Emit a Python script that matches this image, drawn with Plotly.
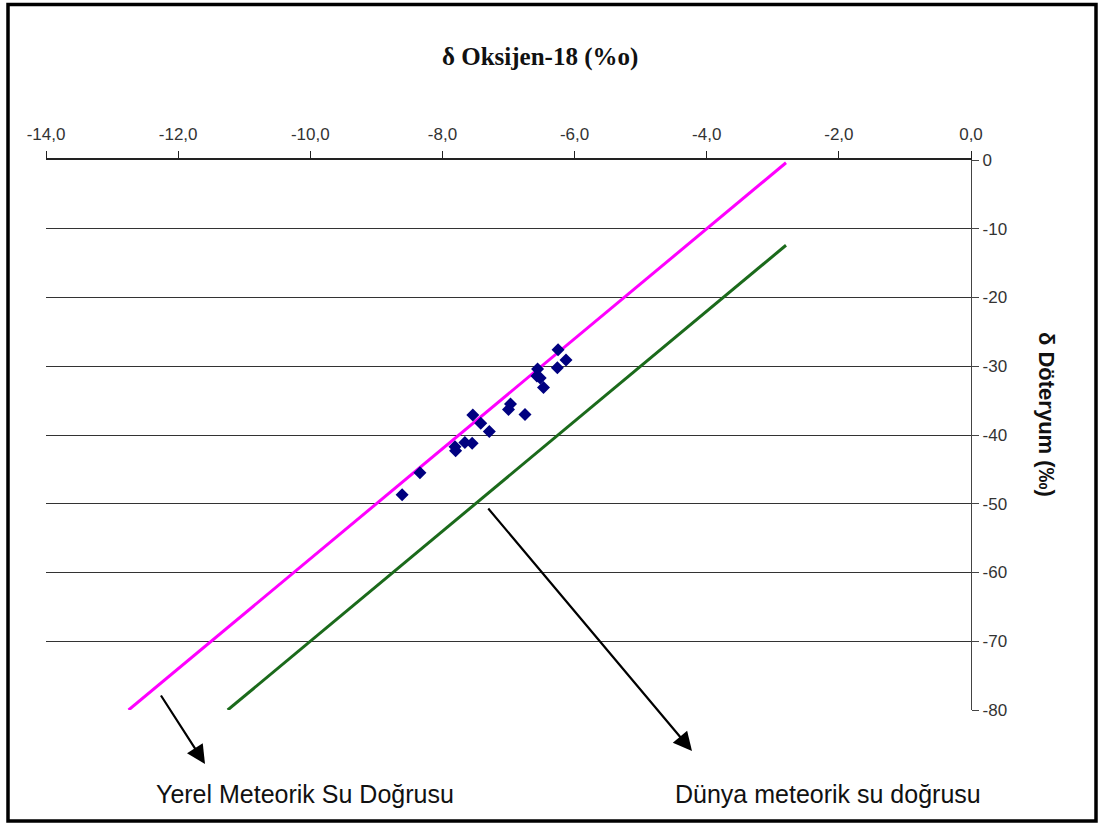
import plotly.graph_objects as go

# Sample isotope measurements (delta O-18 vs delta deuterium, permil)
o18 = [-8.61, -8.34, -7.81, -7.80, -7.66, -7.55, -7.54, -7.42, -7.29, -6.97,
       -7.00, -6.75, -6.56, -6.57, -6.52, -6.47, -6.25, -6.13, -6.26]
d2h = [-48.7, -45.5, -41.7, -42.3, -41.1, -41.2, -37.1, -38.3, -39.5, -35.5,
       -36.3, -37.0, -30.4, -31.4, -31.7, -33.1, -27.6, -29.1, -30.2]

# Local meteoric water line endpoints
lmwl_x = [-12.75, -2.80]
lmwl_y = [-80.0, -0.4]

# Global meteoric water line endpoints
gmwl_x = [-11.25, -2.80]
gmwl_y = [-80.0, -12.4]

x_ticks = [-14, -12, -10, -8, -6, -4, -2, 0]
x_tick_labels = ["-14,0", "-12,0", "-10,0", "-8,0", "-6,0", "-4,0", "-2,0", "0,0"]
y_ticks = [0, -10, -20, -30, -40, -50, -60, -70, -80]
y_tick_labels = ["0", "-10", "-20", "-30", "-40", "-50", "-60", "-70", "-80"]

W, H = 1098, 823
L, R, T, B = 46, 127, 160, 113
pw, ph = W - L - R, H - T - B


def px(x):
    return (x - L) / pw


def py(y):
    return (H - B - y) / ph


fig = go.Figure()
fig.add_trace(go.Scatter(x=lmwl_x, y=lmwl_y, mode="lines",
                         line=dict(color="#ff00ff", width=3), hoverinfo="skip"))
fig.add_trace(go.Scatter(x=gmwl_x, y=gmwl_y, mode="lines",
                         line=dict(color="#1b6a1b", width=3), hoverinfo="skip"))
fig.add_trace(go.Scatter(x=o18, y=d2h, mode="markers",
                         marker=dict(symbol="diamond", size=10, color="#000080",
                                     line=dict(width=0))))

tick_font = dict(family="Liberation Sans, Arial, sans-serif", size=17, color="#333")

fig.update_layout(
    width=W, height=H,
    margin=dict(l=L, r=R, t=T, b=B),
    paper_bgcolor="white", plot_bgcolor="white",
    showlegend=False,
    xaxis=dict(range=[-14, 0], side="top", tickvals=x_ticks, ticktext=x_tick_labels,
               showgrid=False, zeroline=False, showline=True, linecolor="#222",
               linewidth=1.5, ticks="outside", ticklen=7, tickcolor="#222",
               tickfont=tick_font, ticklabelstandoff=4),
    yaxis=dict(range=[-80, 0], side="right", tickvals=y_ticks, ticktext=y_tick_labels,
               showgrid=True, gridcolor="#333", gridwidth=1.3, zeroline=False,
               showline=True, linecolor="#444", linewidth=1.3, ticks="outside",
               ticklen=7, tickcolor="#444", tickfont=tick_font),
)

# outer frame
fig.add_shape(type="rect", xref="paper", yref="paper",
              x0=px(8), x1=px(1096), y0=py(821), y1=py(4.5),
              line=dict(color="black", width=3.5))

# axis titles
fig.add_annotation(text="<b>δ Oksijen-18 (%o)</b>", xref="paper", yref="paper",
                   x=px(540), y=py(57), xanchor="center", yanchor="middle",
                   showarrow=False,
                   font=dict(family="Liberation Serif, Times New Roman, serif", size=25,
                             color="#111"))
fig.add_annotation(text="<b>δ Döteryum (‰)</b>", xref="paper", yref="paper",
                   x=px(1047), y=py(414), xanchor="center", yanchor="middle",
                   showarrow=False, textangle=90,
                   font=dict(family="Liberation Sans, Arial, sans-serif", size=22,
                             color="#111"))

# line labels with arrows
label_font = dict(family="Liberation Sans, Arial, sans-serif", size=25, color="#111")
fig.add_annotation(text="Yerel Meteorik Su Doğrusu", xref="paper", yref="paper",
                   x=px(305), y=py(794), xanchor="center", yanchor="middle",
                   showarrow=False, font=label_font)
fig.add_annotation(text="Dünya meteorik su doğrusu", xref="paper", yref="paper",
                   x=px(828), y=py(794), xanchor="center", yanchor="middle",
                   showarrow=False, font=label_font)

fig.add_annotation(text="", xref="paper", yref="paper", x=px(205), y=py(764),
                   ax=160 - 205, ay=694 - 764, showarrow=True, arrowhead=2,
                   arrowsize=1.7, arrowwidth=2.2, arrowcolor="black")
fig.add_annotation(text="", xref="paper", yref="paper", x=px(692), y=py(751),
                   ax=487 - 692, ay=507 - 751, showarrow=True, arrowhead=2,
                   arrowsize=1.7, arrowwidth=2.2, arrowcolor="black")

fig.write_html("out.html")
